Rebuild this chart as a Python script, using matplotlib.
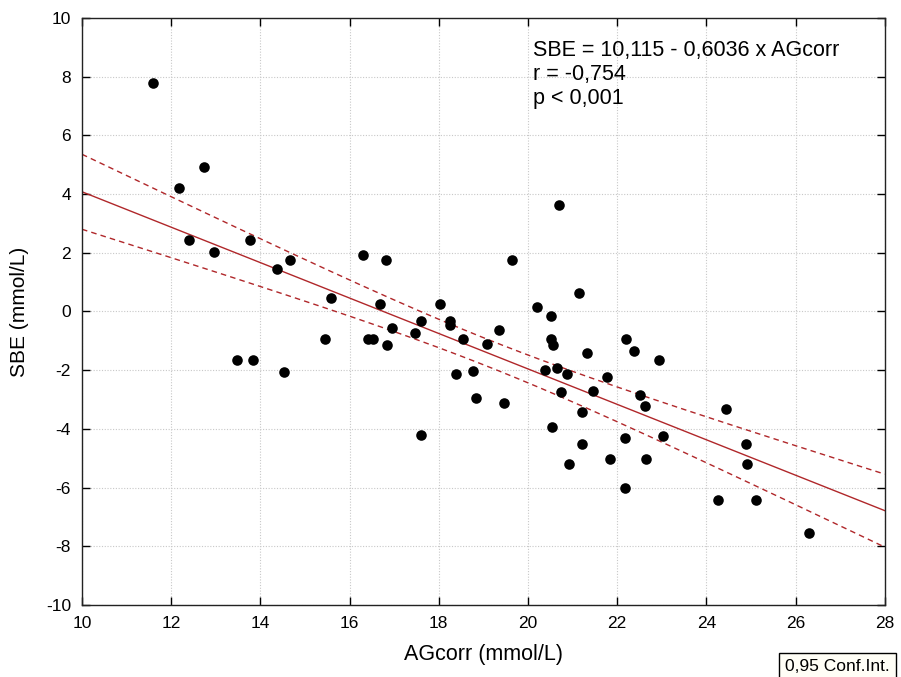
import numpy as np
import matplotlib

matplotlib.use("Agg")
import matplotlib.pyplot as plt

plt.rcParams["font.family"] = ["Liberation Sans", "DejaVu Sans"]
plt.rcParams["axes.unicode_minus"] = False

# AGcorr (mmol/L) vs SBE (mmol/L)
agcorr = [11.60, 12.18, 12.74, 12.41, 12.96, 13.77, 14.37, 14.66, 15.58, 16.29,
          13.48, 13.83, 14.53, 15.45, 16.42, 16.52, 16.68, 16.82, 16.85, 16.96,
          17.47, 17.60, 17.60, 18.03, 18.25, 18.25, 18.55, 18.39, 18.77, 18.84,
          19.07, 19.36, 19.46, 19.65, 20.21, 20.51, 20.51, 20.55, 20.38, 20.66,
          20.87, 20.70, 20.73, 20.54, 20.92, 21.15, 21.32, 21.45, 21.22, 21.22,
          21.78, 21.84, 22.20, 22.37, 22.94, 22.52, 22.63, 23.02, 22.17, 22.65,
          22.17, 24.45, 24.88, 24.91, 24.26, 25.11, 26.31]
sbe = [7.79, 4.22, 4.92, 2.43, 2.03, 2.43, 1.45, 1.75, 0.45, 1.93,
       -1.65, -1.65, -2.05, -0.93, -0.93, -0.93, 0.24, 1.74, -1.14, -0.55,
       -0.75, -0.33, -4.22, 0.24, -0.33, -0.47, -0.93, -2.12, -2.03, -2.94,
       -1.12, -0.64, -3.12, 1.74, 0.16, -0.15, -0.93, -1.15, -2.00, -1.93,
       -2.12, 3.62, -2.74, -3.93, -5.21, 0.64, -1.43, -2.71, -3.42, -4.51,
       -2.24, -5.02, -0.94, -1.34, -1.64, -2.83, -3.21, -4.23, -4.32, -5.02,
       -6.01, -3.32, -4.51, -5.21, -6.41, -6.41, -7.56]

intercept = 10.115
slope = -0.6036
r_value = "-0,754"
p_text = "p < 0,001"
x_range = (10, 28)
y_range = (-10, 10)

x = np.array(agcorr)
y = np.array(sbe)
n = len(x)

# regression line + 95% confidence band of the mean
xs = np.linspace(*x_range, 200)
fit = intercept + slope * xs
resid = y - (intercept + slope * x)
s_err = np.sqrt(np.sum(resid ** 2) / (n - 2))
t_val = 1.997
half = t_val * s_err * np.sqrt(1 / n + (xs - x.mean()) ** 2 / np.sum((x - x.mean()) ** 2))

fig = plt.figure(figsize=(9.01, 6.77), dpi=100)
ax = fig.add_axes([0.091, 0.1064, 0.891, 0.867])

red = "#b0272a"
ax.plot(xs, fit, color=red, lw=1.0, zorder=2)
ax.plot(xs, fit + half, color=red, lw=1.0, ls=(0, (4, 3)), zorder=2)
ax.plot(xs, fit - half, color=red, lw=1.0, ls=(0, (4, 3)), zorder=2)
ax.scatter(x, y, s=58, color="black", zorder=3, linewidths=0)

ax.set_xlim(*x_range)
ax.set_ylim(*y_range)
ax.set_xticks(np.arange(10, 29, 2))
ax.set_yticks(np.arange(-10, 11, 2))
ax.grid(True, color="#c8c8c8", ls=(0, (1, 1.5)), lw=0.8)
ax.tick_params(direction="in", length=6, width=1, top=True, right=True,
               labelsize=12.5, pad=8)
for sp in ax.spines.values():
    sp.set_linewidth(1.0)
    sp.set_color("#222222")

ax.set_xlabel("AGcorr (mmol/L)", fontsize=15.5, labelpad=9)
ax.set_ylabel("SBE (mmol/L)", fontsize=15, labelpad=12)

lines = [f"SBE = {intercept:.3f} - {abs(slope):.4f} x AGcorr".replace(".", ","),
         f"r = {r_value}", p_text]
for i, line in enumerate(lines):
    ax.text(20.11, 8.72 - 0.82 * i, line, fontsize=15.5, va="baseline", ha="left")

fig.text(785 / 901, 0.016, "0,95 Conf.Int.", fontsize=12.5, ha="left", va="center",
         bbox=dict(boxstyle="square,pad=0.35", fc="#fffef6", ec="black", lw=1))

fig.savefig("out.png", dpi=100)
